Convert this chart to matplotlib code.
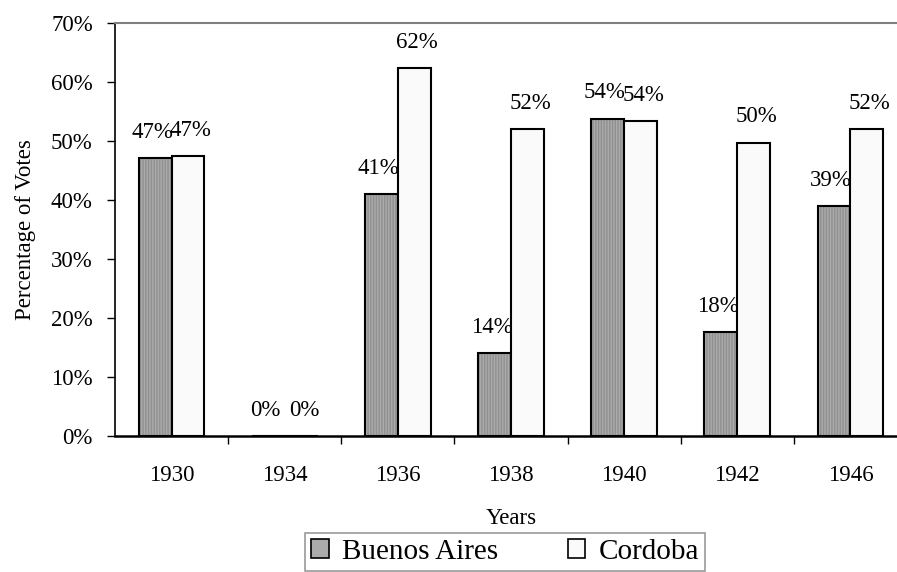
import matplotlib
matplotlib.use("Agg")
from matplotlib import pyplot as plt
from matplotlib.patches import Patch
import numpy as np

years = ["1930", "1934", "1936", "1938", "1940", "1942", "1946"]
buenos_aires = [47.1, 0.0, 41.0, 14.1, 53.8, 17.6, 39.0]
cordoba = [47.4, 0.0, 62.3, 52.0, 53.4, 49.7, 52.0]
ba_labels = ["47%", "0%", "41%", "14%", "54%", "18%", "39%"]
co_labels = ["47%", "0%", "62%", "52%", "54%", "50%", "52%"]

plt.rcParams['font.family'] = ['Liberation Serif', 'DejaVu Serif']

fig = plt.figure(figsize=(8.97, 5.72), dpi=100)
#Axes run a little past the right edge, as in the reference
ax = fig.add_axes([115 / 897, 136 / 572, 792 / 897, 413 / 572])

x = np.arange(len(years)) + 0.5
w = 0.29

# Buenos Aires: grey with fine vertical stripes, then black outline on top
ax.bar(x - w / 2, buenos_aires, w, color="#ababab", hatch="||||||",
       edgecolor="#909090", linewidth=0)
ax.bar(x - w / 2, buenos_aires, w, fill=False, edgecolor="black", linewidth=1.5)
ax.bar(x + w / 2, cordoba, w, color="#fafafa", edgecolor="black", linewidth=1.5)

for xi, v, s in zip(x - w / 2, buenos_aires, ba_labels):
    ax.annotate(s, (xi, v), xytext=(-2, 11), textcoords="offset points",
                ha="center", va="bottom", fontsize=16.5)
for xi, v, s in zip(x + w / 2, cordoba, co_labels):
    ax.annotate(s, (xi, v), xytext=(2, 11), textcoords="offset points",
                ha="center", va="bottom", fontsize=16.5)

ax.set_xlim(0, len(years))
ax.set_ylim(0, 70)
ax.set_yticks(range(0, 71, 10))
ax.set_yticklabels([f"{t}%" for t in range(0, 71, 10)])
ax.set_xticks(x)
ax.set_xticklabels(years)
ax.set_xticks(np.arange(1, len(years)), minor=True)
ax.tick_params(axis="x", which="major", length=0, pad=21, labelsize=16.5)
ax.tick_params(axis="x", which="minor", length=6, width=1, direction="out")
ax.tick_params(axis="y", length=6, width=1, pad=10, labelsize=16.5)

for side in ["top", "right"]:
    ax.spines[side].set_color("#808080")
    ax.spines[side].set_linewidth(1.5)
ax.spines["left"].set_linewidth(1.2)
ax.spines["bottom"].set_linewidth(1.8)

ax.set_ylabel("Percentage of Votes", fontsize=16.5, labelpad=11)
ax.set_xlabel("Years", fontsize=16.5, labelpad=16)

handles = [Patch(facecolor="#ababab", edgecolor="black", linewidth=1.2),
           Patch(facecolor="#fafafa", edgecolor="black", linewidth=1.2)]
leg = fig.legend(handles, ["Buenos Aires", "Cordoba"], loc="upper center",
                 bbox_to_anchor=(505 / 897, 1 - 533 / 572), ncol=2,
                 fontsize=21, frameon=True, fancybox=False,
                 handlelength=0.6, handleheight=0.6, handletextpad=0.45,
                 columnspacing=2.4, borderpad=0.2, borderaxespad=0)
leg.get_frame().set_edgecolor("#808080")
leg.get_frame().set_linewidth(1.2)

fig.savefig("out.png", dpi=100)
